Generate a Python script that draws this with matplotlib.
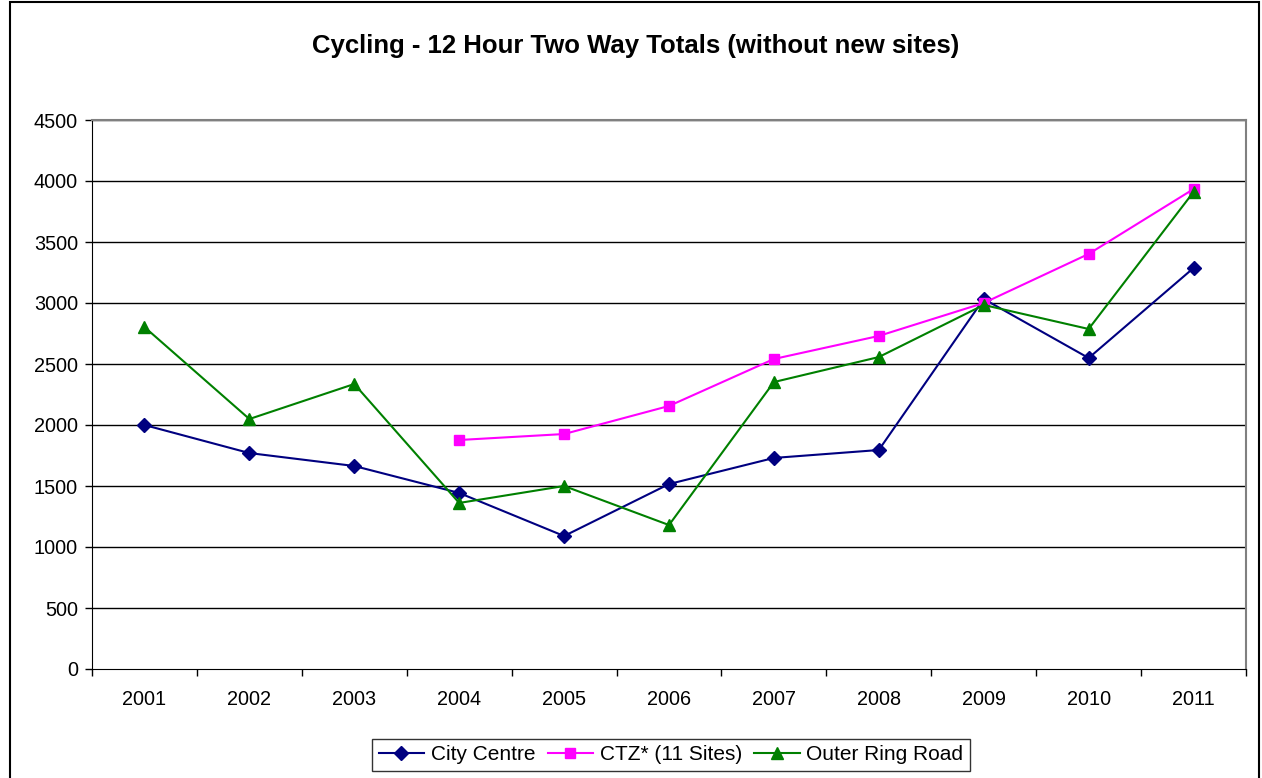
import matplotlib
matplotlib.use("Agg")
import matplotlib.pyplot as plt
from matplotlib.patches import Rectangle

years = ["2001", "2002", "2003", "2004", "2005", "2006", "2007", "2008", "2009", "2010", "2011"]
city_centre = [2000, 1770, 1664, 1443, 1090, 1516, 1730, 1795, 3033, 2549, 3287]
ctz_years = ["2004", "2005", "2006", "2007", "2008", "2009", "2010", "2011"]
ctz = [1877, 1926, 2156, 2541, 2730, 3000, 3402, 3934]
outer_ring = [2803, 2049, 2336, 1361, 1500, 1180, 2352, 2557, 2984, 2787, 3910]
y_ticks = [0, 500, 1000, 1500, 2000, 2500, 3000, 3500, 4000, 4500]

plt.rcParams['font.family'] = ['Liberation Sans', 'DejaVu Sans']

W, H = 1262, 778
fig = plt.figure(figsize=(W / 100, H / 100), dpi=100)
ax = fig.add_axes([92 / W, 1 - 669 / H, (1246 - 92) / W, (669 - 120) / H])

fig.patches.append(Rectangle((10 / W, -0.01), (1259 - 10) / W, (778 - 2) / H + 0.01,
                             transform=fig.transFigure, fill=False, edgecolor='black',
                             linewidth=1.5, zorder=0))

xi = list(range(len(years)))
ctz_x = [years.index(y) for y in ctz_years]

ax.plot(xi, city_centre, color='#000080', marker='D', markersize=7, linewidth=1.5,
        label='City Centre', zorder=3)
ax.plot(ctz_x, ctz, color='#FF00FF', marker='s', markersize=7, linewidth=1.5,
        label='CTZ* (11 Sites)', zorder=3)
ax.plot(xi, outer_ring, color='#008000', marker='^', markersize=9, linewidth=1.5,
        label='Outer Ring Road', zorder=3)

ax.set_xlim(-0.5, len(years) - 0.5)
ax.set_ylim(0, 4500)
ax.set_yticks(y_ticks)
ax.set_yticklabels([str(v) for v in y_ticks], fontsize=14.3)
ax.set_xticks([i - 0.5 for i in range(len(years) + 1)], minor=False)
ax.set_xticklabels([])
ax.set_xticks(xi, minor=True)
ax.set_xticklabels(years, minor=True, fontsize=14.3)
ax.tick_params(axis='x', which='major', length=5, direction='out', color='black', width=1)
ax.tick_params(axis='x', which='minor', length=0, pad=15)
ax.tick_params(axis='y', length=5, direction='out', width=1, pad=5)

for v in y_ticks[1:]:
    ax.axhline(v, color='black', linewidth=1, zorder=1)

for side in ['top', 'right']:
    ax.spines[side].set_color('#808080')
    ax.spines[side].set_linewidth(1.5)
ax.spines['left'].set_color('black')
ax.spines['bottom'].set_color('black')

fig.text(636 / W, 1 - 46 / H, 'Cycling - 12 Hour Two Way Totals (without new sites)',
         ha='center', va='center', fontsize=18.5, fontweight='bold')

leg = fig.legend(loc='center', bbox_to_anchor=(671 / W, 1 - 755 / H), ncol=3,
                 fontsize=15, frameon=True, fancybox=False, edgecolor='black',
                 handlelength=2.2, handletextpad=0.3, columnspacing=0.6,
                 borderpad=0.3)
leg.get_frame().set_linewidth(1)

fig.savefig('out.png', dpi=100, facecolor='white')
